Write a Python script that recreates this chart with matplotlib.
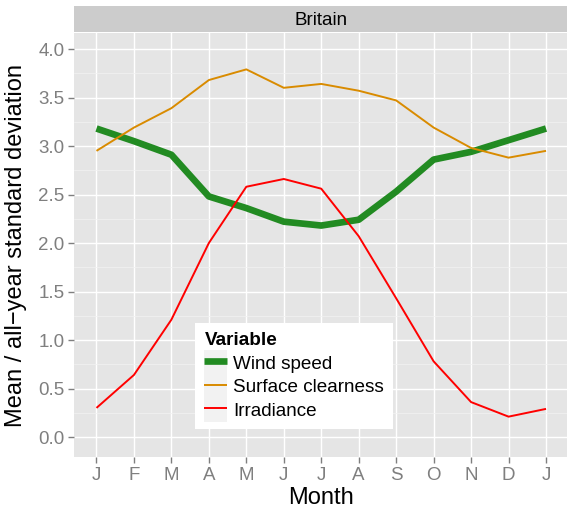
import matplotlib
matplotlib.use("Agg")
import matplotlib.pyplot as plt
from matplotlib.legend_handler import HandlerLine2D
from matplotlib.patches import Rectangle
from matplotlib.ticker import MultipleLocator

plt.rcParams["font.family"] = ["Liberation Sans", "DejaVu Sans"]

months = ["J", "F", "M", "A", "M", "J", "J", "A", "S", "O", "N", "D", "J"]
month_index = list(range(1, 14))

wind_speed = [3.18, 3.05, 2.91, 2.48, 2.36, 2.22, 2.18, 2.24, 2.53, 2.86, 2.94, 3.06, 3.18]
surface_clearness = [2.95, 3.19, 3.39, 3.68, 3.79, 3.60, 3.64, 3.57, 3.47, 3.19, 2.98, 2.88, 2.95]
irradiance = [0.30, 0.64, 1.21, 2.00, 2.58, 2.66, 2.56, 2.07, 1.43, 0.78, 0.36, 0.21, 0.29]

panel_title = "Britain"
legend_title = "Variable"
series_names = ["Wind speed", "Surface clearness", "Irradiance"]
series_colors = ["#228B22", "#D98B00", "#FF0000"]
series_widths = [4.8, 1.4, 1.4]

W, H = 567, 511
fig = plt.figure(figsize=(W / 100, H / 100), dpi=100)

left, right = 74 / W, 568.5 / W
bottom, top = 1 - 457 / H, 1 - 33 / H
ax = fig.add_axes([left, bottom, right - left, top - bottom])
ax.set_facecolor("#E5E5E5")
for s in ax.spines.values():
    s.set_visible(False)

for y, name, c, lw in zip([wind_speed, surface_clearness, irradiance],
                          series_names, series_colors, series_widths):
    ax.plot(month_index, y, color=c, lw=lw, label=name,
            solid_capstyle="butt", solid_joinstyle="round", zorder=3)

ax.set_xlim(0.4, 13.6)
ax.set_ylim(-0.206, 4.165)
ax.set_xticks(month_index)
ax.set_xticklabels(months)
ax.yaxis.set_major_locator(MultipleLocator(0.5))
ax.yaxis.set_minor_locator(MultipleLocator(0.25))
ax.yaxis.set_major_formatter(matplotlib.ticker.FormatStrFormatter("%.1f"))

ax.grid(which="major", color="white", lw=1.0, zorder=1)
ax.grid(which="minor", axis="y", color="#F2F2F2", lw=0.5, zorder=0.9)
ax.set_axisbelow(True)

ax.tick_params(axis="both", which="major", colors="#7F7F7F", length=4, width=1.0,
               labelsize=13.5, pad=3)
ax.tick_params(axis="y", which="minor", length=0)

ax.set_xlabel("Month", fontsize=17, labelpad=2, color="black")
ax.set_ylabel("Mean / all\u2212year standard deviation", fontsize=17, labelpad=8, color="black")

# facet strip
strip = fig.add_axes([left, 1 - 32.5 / H, right - left, 26 / H])
strip.set_facecolor("#CCCCCC")
strip.set_xticks([])
strip.set_yticks([])
for s in strip.spines.values():
    s.set_visible(False)
strip.text(0.5, 0.45, panel_title, ha="center", va="center", fontsize=13.5,
           transform=strip.transAxes)


class KeyHandler(HandlerLine2D):
    def create_artists(self, legend, orig_handle, xdescent, ydescent, width,
                       height, fontsize, trans):
        bg = Rectangle((-xdescent, -ydescent - 3), width, height + 6,
                       facecolor="#F2F2F2", edgecolor="none", transform=trans)
        arts = super().create_artists(legend, orig_handle, xdescent, ydescent,
                                      width, height, fontsize, trans)
        return [bg] + list(arts)


handles, labels = ax.get_legend_handles_labels()
leg = fig.legend(handles, labels, title=legend_title, loc="upper left",
                 bbox_to_anchor=(195 / W, 1 - 323 / H), bbox_transform=fig.transFigure,
                 borderaxespad=0, frameon=True, fancybox=False, framealpha=1,
                 facecolor="white", edgecolor="none", fontsize=13.6, borderpad=0.5,
                 handlelength=1.2, handleheight=1.0, handletextpad=0.3,
                 labelspacing=0.24, alignment="left",
                 title_fontproperties={"weight": "bold", "size": 13.6},
                 handler_map={h: KeyHandler() for h in handles})

fig.savefig("out.png", dpi=100)
